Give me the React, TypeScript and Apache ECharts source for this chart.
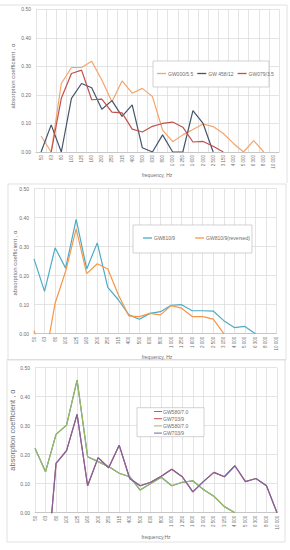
import React, { useEffect, useRef } from 'react';
import * as echarts from 'echarts';

const frequencies = ['50', '63', '80', '100', '125', '160', '200', '250', '315', '400', '500', '630', '800', '1 000', '1 250', '1 600', '2 000', '2 500', '3 150', '4 000', '5 000', '6 300', '8 000', '10 000'];

// Panel 1
const gw000 = [0.056, 0, 0.24, 0.296, 0.296, 0.318, 0.252, 0.176, 0.249, 0.206, 0.223, 0.194, 0.077, 0.036, 0.06, 0.079, 0.098, 0.089, 0.065, 0.03, 0, 0.04, 0, null];
const gw458 = [0, 0.095, 0, 0.188, 0.24, 0.225, 0.15, 0.18, 0.125, 0.165, 0.015, 0, 0.06, 0, 0, 0.145, 0.1, 0, null, null, null, null, null, null];
const gw079 = [null, 0, 0.188, 0.275, 0.287, 0.183, 0.185, 0.14, 0.137, 0.08, 0.07, 0.09, 0.1, 0.105, 0.087, 0.035, 0.037, 0.02, 0, null, null, null, null, null];

// Panel 2
const gw810 = [0.258, 0.146, 0.296, 0.226, 0.394, 0.223, 0.313, 0.16, 0.117, 0.065, 0.05, 0.07, 0.076, 0.098, 0.1, 0.079, 0.079, 0.078, 0.045, 0.021, 0.025, 0, null, null];
const gw810rev = [0.01, -0.1, 0.105, 0.215, 0.361, 0.207, 0.241, 0.223, 0.134, 0.061, 0.059, 0.07, 0.065, 0.097, 0.088, 0.059, 0.059, 0.05, 0, null, null, null, null, null];

// Panel 3
const gw580 = [0.222, 0.141, 0.27, 0.302, 0.457, 0.193, 0.176, 0.159, 0.136, 0.124, 0.078, 0.101, 0.122, 0.093, 0.105, 0.11, 0.08, 0.057, 0.021, 0, null, null, null, null];
const gw703 = [null, -0.25, 0.17, 0.214, 0.339, 0.093, 0.19, 0.155, 0.233, 0.118, 0.093, 0.105, 0.126, 0.15, 0.124, 0.072, 0.107, 0.139, 0.124, 0.162, 0.107, 0.118, 0.093, 0];

const FONT = 'Liberation Sans';
const TXT = '#6e6e6e';
const GRID_C = '#d9d9d9';

const panels = [
  { left: 36, top: 9.3, width: 243, height: 142.7, boundaryGap: true },
  { left: 34, top: 188.6, width: 242.5, height: 145.1, boundaryGap: false },
  { left: 35, top: 367.7, width: 242, height: 145, boundaryGap: false },
];

const seriesDefs = [
  { name: 'GW000/5.5', data: gw000, color: '#F4A46A', panel: 0 },
  { name: 'GW 458/12', data: gw458, color: '#44546A', panel: 0 },
  { name: 'GW079/3.5', data: gw079, color: '#C0504D', panel: 0 },
  { name: 'GW810/9', data: gw810, color: '#4BACC6', panel: 1 },
  { name: 'GW810/9(reversed)', data: gw810rev, color: '#F79646', panel: 1 },
  { name: 'GW580/7.0 ', data: gw580, color: '#4F81BD', panel: 2 },
  { name: 'GW703/9 ', data: gw703, color: '#C0504D', panel: 2 },
  { name: 'GW580/7.0', data: gw580, color: '#9BBB59', panel: 2 },
  { name: 'GW703/9', data: gw703, color: '#8064A2', panel: 2 },
];

const legend3 = [
  { name: 'GW580/7.0', color: '#4F81BD' },
  { name: 'GW703/9', color: '#C0504D' },
  { name: 'GW580/7.0', color: '#9BBB59' },
  { name: 'GW703/9', color: '#8064A2' },
];

function buildOption() {
  const grid = panels.map((p) => ({ left: p.left, top: p.top, width: p.width, height: p.height, containLabel: false }));
  const xAxis = panels.map((p, i) => ({
    type: 'category',
    gridIndex: i,
    data: frequencies,
    boundaryGap: p.boundaryGap,
    axisLine: { show: true, lineStyle: { color: '#bfbfbf', width: 0.8 } },
    axisTick: { show: false },
    splitLine: { show: true, lineStyle: { color: GRID_C, width: 0.7 } },
    axisLabel: { interval: 0, rotate: 90, fontSize: 4.5, color: TXT, margin: 3, fontFamily: FONT },
  }));
  const yAxis = panels.map((p, i) => ({
    type: 'value',
    gridIndex: i,
    min: 0,
    max: 0.5,
    interval: 0.1,
    axisLine: { show: false },
    axisTick: { show: false },
    splitLine: { show: true, lineStyle: { color: GRID_C, width: 0.7 } },
    axisLabel: { fontSize: 5, color: TXT, margin: 5, fontFamily: FONT, formatter: (v: number) => v.toFixed(2) },
  }));
  const series = seriesDefs.map((s) => ({
    type: 'line',
    name: s.name,
    xAxisIndex: s.panel,
    yAxisIndex: s.panel,
    data: s.data,
    symbol: 'none',
    clip: true,
    connectNulls: false,
    lineStyle: { width: 1.2, color: s.color },
    itemStyle: { color: s.color },
  }));

  const legendCommon = {
    orient: 'horizontal',
    icon: 'rect',
    itemWidth: 9,
    itemHeight: 1.3,
    textStyle: { fontSize: 5, color: TXT, fontFamily: FONT, padding: [0, 0, 0, -3] },
    padding: 0,
    selectedMode: false,
  };
  const legend = [
    { ...legendCommon, left: 157, top: 71, itemGap: 4, data: ['GW000/5.5', 'GW 458/12', 'GW079/3.5'] },
    { ...legendCommon, left: 143, top: 235.5, itemGap: 20, data: ['GW810/9', 'GW810/9(reversed)'] },
  ];

  const graphic: any[] = [
    { type: 'polyline', shape: { points: [[0, 5], [287, 5], [287, 183]] }, style: { stroke: GRID_C, lineWidth: 0.8, fill: 'none' }, silent: true },
    { type: 'rect', shape: { x: 8, y: 184, width: 278, height: 176 }, style: { stroke: GRID_C, lineWidth: 0.8, fill: 'none' }, silent: true },
    { type: 'rect', shape: { x: 7, y: 359.5, width: 278, height: 182.5 }, style: { stroke: GRID_C, lineWidth: 0.8, fill: 'none' }, silent: true },
    // legend boxes
    { type: 'rect', shape: { x: 153, y: 61, width: 116, height: 26 }, style: { stroke: '#bfbfbf', lineWidth: 0.7, fill: '#fff' }, z: 5, silent: true },
    { type: 'rect', shape: { x: 133, y: 225, width: 119, height: 28 }, style: { stroke: '#bfbfbf', lineWidth: 0.7, fill: '#fff' }, z: 5, silent: true },
    { type: 'rect', shape: { x: 137, y: 407.7, width: 67, height: 29 }, style: { stroke: '#bfbfbf', lineWidth: 0.7, fill: '#fff' }, z: 5, silent: true },
    // axis titles
    { type: 'text', x: 13, y: 76, rotation: Math.PI / 2, z: 6, style: { text: 'absorption coefficient , α', fontSize: 6, fill: TXT, fontFamily: FONT, align: 'center', verticalAlign: 'middle' } },
    { type: 'text', x: 157, y: 175, z: 6, style: { text: 'frequency, Hz', fontSize: 5, fill: TXT, fontFamily: FONT, align: 'center', verticalAlign: 'middle' } },
    { type: 'text', x: 15, y: 263, rotation: Math.PI / 2, z: 6, style: { text: 'absorption coefficient , α', fontSize: 6, fill: TXT, fontFamily: FONT, align: 'center', verticalAlign: 'middle' } },
    { type: 'text', x: 157, y: 356.5, z: 6, style: { text: 'frequency, Hz', fontSize: 5, fill: TXT, fontFamily: FONT, align: 'center', verticalAlign: 'middle' } },
    { type: 'text', x: 12.7, y: 430, rotation: Math.PI / 2, z: 6, style: { text: 'absorption coefficient , α', fontSize: 7.5, fill: TXT, fontFamily: FONT, align: 'center', verticalAlign: 'middle' } },
    { type: 'text', x: 156, y: 536.5, z: 6, style: { text: 'frequency,Hz', fontSize: 5, fill: TXT, fontFamily: FONT, align: 'center', verticalAlign: 'middle' } },
  ];
  legend3.forEach((l, i) => {
    const y = 411.5 + i * 7.2;
    graphic.push({ type: 'line', z: 7, shape: { x1: 154, y1: y, x2: 162, y2: y }, style: { stroke: l.color, lineWidth: 1 }, silent: true });
    graphic.push({ type: 'text', x: 163, y, z: 7, style: { text: l.name, fontSize: 5, fill: TXT, fontFamily: FONT, align: 'left', verticalAlign: 'middle' }, silent: true });
  });

  return {
    animation: false,
    backgroundColor: '#ffffff',
    textStyle: { fontFamily: FONT },
    grid,
    xAxis,
    yAxis,
    series,
    legend: legend.map((l) => ({ ...l, z: 8 })),
    graphic,
  };
}

export default function App() {
  const ref = useRef<HTMLDivElement>(null);
  useEffect(() => {
    if (!ref.current) return;
    const chart = echarts.init(ref.current, null, { renderer: 'svg' });
    chart.setOption(buildOption() as any);
    return () => chart.dispose();
  }, []);
  return (
    <div
      ref={ref}
      style={{ position: 'absolute', left: 0, top: 0, width: 290, height: 550, background: '#fff' }}
    />
  );
}
